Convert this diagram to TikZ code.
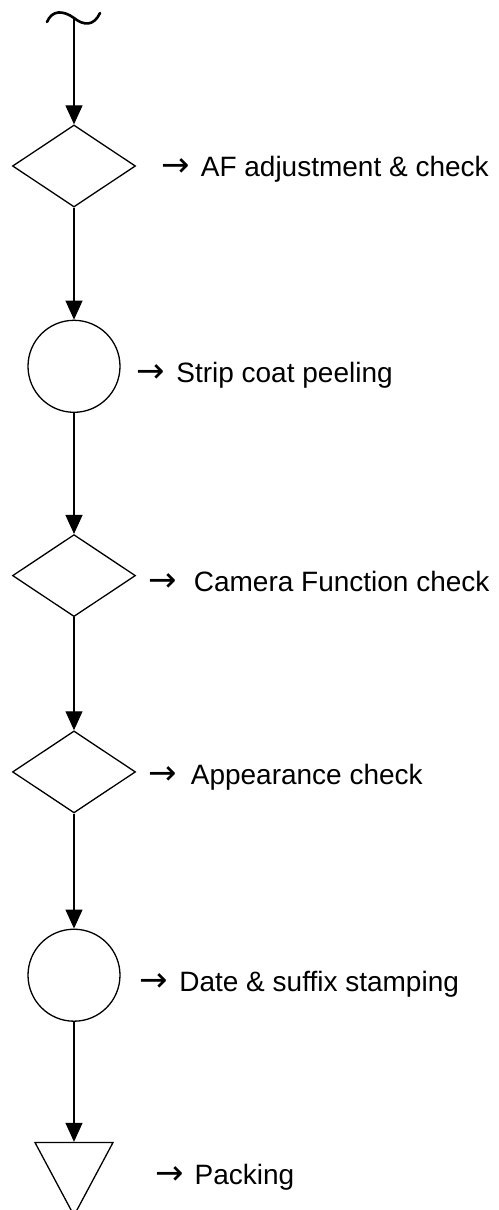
\documentclass[tikz,border=0pt]{standalone}
\usepackage{fontspec}
\setmainfont{Liberation Sans}
\newfontfamily\arrowfont{DejaVu Sans}
\newcommand{\stepto}{{\arrowfont\fontsize{34}{34}\selectfont →}\hspace{11pt}}
\usetikzlibrary{shapes.geometric,arrows.meta,positioning,calc}

\begin{document}
\begin{tikzpicture}[
  x=1pt, y=1pt,
  font=\fontsize{28}{32}\selectfont,
  check/.style={diamond, draw, line width=1.3pt, minimum width=123pt,
                minimum height=82pt, inner sep=0pt},
  oper/.style={circle, draw, line width=1.3pt, minimum size=92pt, inner sep=0pt},
  store/.style={isosceles triangle, shape border rotate=-90,
                isosceles triangle stretches, draw, line width=1.3pt,
                minimum width=78pt, minimum height=73pt, inner sep=0pt},
  flow/.style={-{Triangle[length=19pt,width=17pt]}, line width=1.2pt},
  lab/.style={inner sep=0pt, text height=20pt, text depth=0pt}
]
\useasboundingbox (0,0) rectangle (498,-1210);

% ---- break mark at the top ----
\coordinate (start) at (74,-18);
\draw[line width=2.6pt, line cap=round]
  (47,-22) .. controls (52,-10) and (63,-10) .. (start)
           .. controls (84,-26) and (94,-26) .. (100,-13);

% ---- process steps ----
\node[check] (af) at (74,-166) {};
\node[oper, below=112pt of af] (strip) {};
\node[check, below=121pt of strip] (camera) {};
\node[check, below=113pt of camera] (appear) {};
\node[oper, below=115pt of appear] (stamp) {};
\node[store, below=120pt of stamp] (pack) {};

% ---- step names ----
\node[lab, right=25pt of af] (aflab) {\stepto AF adjustment \& check};
\node[lab, right=16pt of strip, yshift=-6pt] (striplab) {\stepto Strip coat peeling};
\node[lab, right=12pt of camera, yshift=-6pt] (cameralab)
  {\stepto\hspace{6pt}Camera Function check};
\node[lab, right=12pt of appear, yshift=-3pt] (appearlab)
  {\stepto\hspace{3pt}Appearance check};
\node[lab, right=19pt of stamp, yshift=-6pt] (stamplab) {\stepto Date \& suffix stamping};
\node[lab, anchor=west] (packlab) at ($(pack.north)+(81pt,-33pt)$) {\stepto Packing};

% arrows
\draw[flow] (start) -- (af);
\draw[flow] (af) -- (strip);
\draw[flow] (strip) -- (camera);
\draw[flow] (camera) -- (appear);
\draw[flow] (appear) -- (stamp);
\draw[flow] (stamp) -- (pack.north);
\end{tikzpicture}
\end{document}
